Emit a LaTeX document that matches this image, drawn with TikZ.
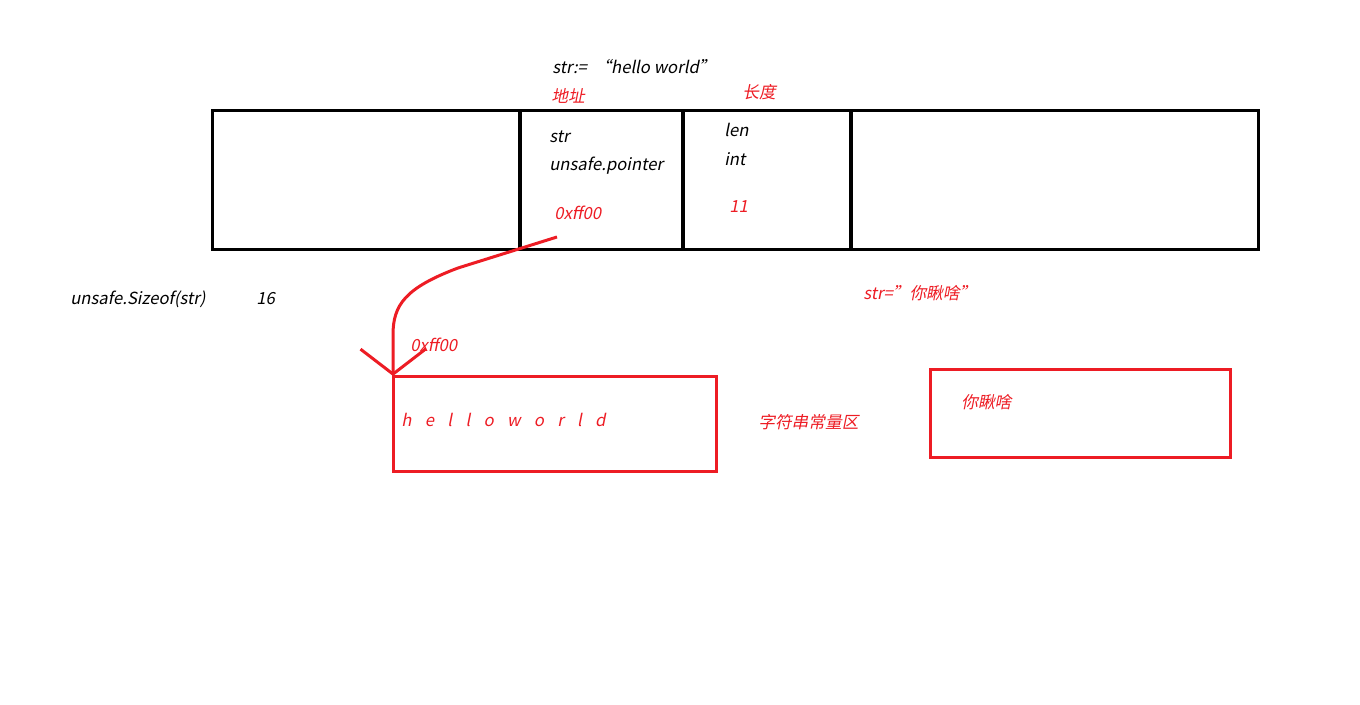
\documentclass[tikz,border=0pt]{standalone}
\usepackage{fontspec}
\setmainfont{Noto Sans CJK SC}[FakeSlant=0.2]
\usetikzlibrary{arrows.meta}
\definecolor{paintred}{RGB}{237,28,36}
\tikzstyle{cell}=[draw, line width=0.06cm, inner sep=0pt, outer sep=0pt, minimum height=2.8cm]
\tikzstyle{redbox}=[draw=paintred, line width=0.06cm, inner sep=0pt, outer sep=0pt]
\tikzstyle{txt}=[anchor=west, inner sep=0pt, font=\fontsize{9.5}{11}\selectfont]
\tikzstyle{rtxt}=[txt, text=paintred]

\begin{document}
\begin{tikzpicture}[x=0.02cm, y=-0.02cm]
        \useasboundingbox (0,0) rectangle (1360,705);
        \node[cell, minimum width=6.16cm] (blankA) at (366,180) {};
        \node[cell, minimum width=3.26cm] (ptrcell) at (601.5,180) {};
        \node[cell, minimum width=3.36cm] (lencell) at (767,180) {};
        \node[cell, minimum width=8.16cm] (blankB) at (1055,180) {};
        \node[redbox, minimum width=6.48cm, minimum height=1.92cm] (hellobox) at (555,424) {};
        \node[redbox, minimum width=6.02cm, minimum height=1.78cm] (nibox) at (1080.5,413.5) {};
        \node[txt] (title) at (552,67) {str:=\ \ “hello world”};
        \node[rtxt] (addrlbl) at (551,96) {地址};
        \node[rtxt] (lenlbl) at (742,92) {长度};
        \node[txt] (ptrname) at (549,137) {str};
        \node[txt] (ptrtype) at (549,166) {unsafe.pointer};
        \node[rtxt] (ptrval) at (554,213) {0xff00};
        \node[txt] (lenname) at (724,130) {len};
        \node[txt] (lentype) at (724,159) {int};
        \node[rtxt] (lenval) at (729,207) {11};
        \node[txt] (sizeof) at (70,299) {unsafe.Sizeof(str)};
        \node[txt] (sizeval) at (256,299) {16};
        \node[rtxt] (newstr) at (863,293) {str="你瞅啥"};
        \node[rtxt] (heapaddr) at (410,345) {0xff00};
        \node[rtxt] (hellotxt) at (401,420) {\spaceskip=7.6pt\relax h e l l o w o r l d};
        \node[rtxt] (constarea) at (758,422) {字符串常量区};
        \node[rtxt] (nitxt) at (961,402) {你瞅啥};
        \coordinate (ptrtail) at (557,237);
        \draw[paintred, line width=0.06cm, -{Straight Barb[length=0.5cm, width=1.3cm]}] (ptrtail) -- (458,268) .. controls (405,288) and (393,305) .. (393,335) -- (hellobox.north west);
    \end{tikzpicture}
\end{document}
